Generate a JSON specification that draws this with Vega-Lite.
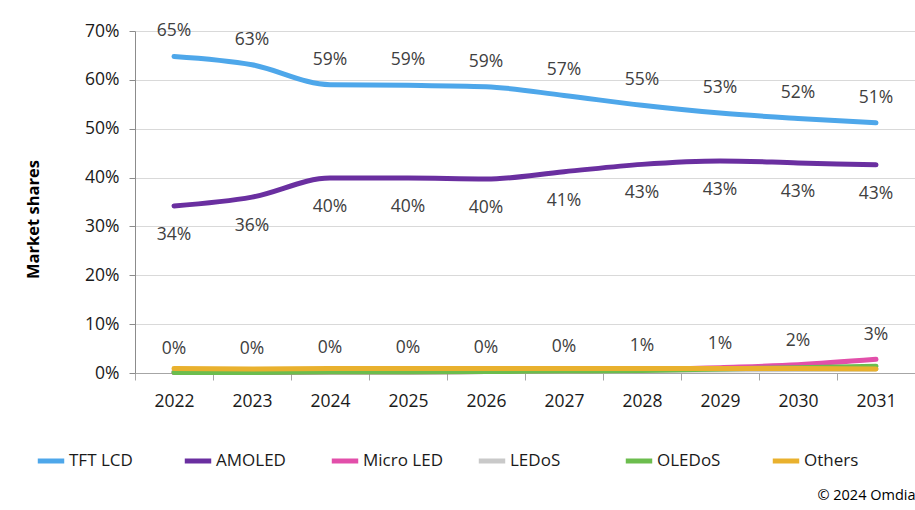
{
  "$schema": "https://vega.github.io/schema/vega-lite/v6.json",
  "width": 780,
  "height": 342,
  "autosize": {"type": "none"},
  "padding": {"left": 135, "top": 31, "right": 0, "bottom": 137},
  "background": "white",
  "config": {"font": "Open Sans", "view": {"stroke": null}},
  "title": {"text": "© 2024 Omdia", "orient": "bottom", "anchor": "end", "fontSize": 14.5, "fontWeight": "normal", "color": "black", "offset": 18},
  "data": {"values": [
    {"year": "2022", "series": "TFT LCD", "share": 0.648},
    {"year": "2023", "series": "TFT LCD", "share": 0.631},
    {"year": "2024", "series": "TFT LCD", "share": 0.590},
    {"year": "2025", "series": "TFT LCD", "share": 0.589},
    {"year": "2026", "series": "TFT LCD", "share": 0.586},
    {"year": "2027", "series": "TFT LCD", "share": 0.568},
    {"year": "2028", "series": "TFT LCD", "share": 0.548},
    {"year": "2029", "series": "TFT LCD", "share": 0.532},
    {"year": "2030", "series": "TFT LCD", "share": 0.521},
    {"year": "2031", "series": "TFT LCD", "share": 0.512},
    {"year": "2022", "series": "AMOLED", "share": 0.342},
    {"year": "2023", "series": "AMOLED", "share": 0.360},
    {"year": "2024", "series": "AMOLED", "share": 0.399},
    {"year": "2025", "series": "AMOLED", "share": 0.399},
    {"year": "2026", "series": "AMOLED", "share": 0.397},
    {"year": "2027", "series": "AMOLED", "share": 0.412},
    {"year": "2028", "series": "AMOLED", "share": 0.427},
    {"year": "2029", "series": "AMOLED", "share": 0.434},
    {"year": "2030", "series": "AMOLED", "share": 0.430},
    {"year": "2031", "series": "AMOLED", "share": 0.426},
    {"year": "2022", "series": "Micro LED", "share": 0.001},
    {"year": "2023", "series": "Micro LED", "share": 0.001},
    {"year": "2024", "series": "Micro LED", "share": 0.002},
    {"year": "2025", "series": "Micro LED", "share": 0.002},
    {"year": "2026", "series": "Micro LED", "share": 0.003},
    {"year": "2027", "series": "Micro LED", "share": 0.004},
    {"year": "2028", "series": "Micro LED", "share": 0.006},
    {"year": "2029", "series": "Micro LED", "share": 0.011},
    {"year": "2030", "series": "Micro LED", "share": 0.017},
    {"year": "2031", "series": "Micro LED", "share": 0.028},
    {"year": "2022", "series": "LEDoS", "share": 0.003},
    {"year": "2023", "series": "LEDoS", "share": 0.003},
    {"year": "2024", "series": "LEDoS", "share": 0.003},
    {"year": "2025", "series": "LEDoS", "share": 0.004},
    {"year": "2026", "series": "LEDoS", "share": 0.004},
    {"year": "2027", "series": "LEDoS", "share": 0.004},
    {"year": "2028", "series": "LEDoS", "share": 0.005},
    {"year": "2029", "series": "LEDoS", "share": 0.006},
    {"year": "2030", "series": "LEDoS", "share": 0.007},
    {"year": "2031", "series": "LEDoS", "share": 0.008},
    {"year": "2022", "series": "OLEDoS", "share": 0.001},
    {"year": "2023", "series": "OLEDoS", "share": 0.001},
    {"year": "2024", "series": "OLEDoS", "share": 0.002},
    {"year": "2025", "series": "OLEDoS", "share": 0.002},
    {"year": "2026", "series": "OLEDoS", "share": 0.003},
    {"year": "2027", "series": "OLEDoS", "share": 0.004},
    {"year": "2028", "series": "OLEDoS", "share": 0.005},
    {"year": "2029", "series": "OLEDoS", "share": 0.008},
    {"year": "2030", "series": "OLEDoS", "share": 0.011},
    {"year": "2031", "series": "OLEDoS", "share": 0.014},
    {"year": "2022", "series": "Others", "share": 0.009},
    {"year": "2023", "series": "Others", "share": 0.008},
    {"year": "2024", "series": "Others", "share": 0.009},
    {"year": "2025", "series": "Others", "share": 0.009},
    {"year": "2026", "series": "Others", "share": 0.009},
    {"year": "2027", "series": "Others", "share": 0.009},
    {"year": "2028", "series": "Others", "share": 0.009},
    {"year": "2029", "series": "Others", "share": 0.009},
    {"year": "2030", "series": "Others", "share": 0.009},
    {"year": "2031", "series": "Others", "share": 0.008}
  ]},
  "encoding": {
    "x": {
      "field": "year", "type": "ordinal", "bandPosition": 0.5,
      "scale": {"type": "band", "paddingInner": 0, "paddingOuter": 0},
      "axis": {"title": null, "labelAngle": 0, "tickBand": "extent", "tickSize": 7, "tickColor": "#A6A6A6", "domainColor": "#A6A6A6", "labelFontSize": 17.5, "labelColor": "#1a1a1a", "labelPadding": 12, "grid": false}
    },
    "y": {
      "field": "share", "type": "quantitative",
      "scale": {"domain": [0, 0.7], "nice": false},
      "axis": {"title": "Market shares", "titleFontSize": 16.5, "titleFontWeight": "bold", "titleColor": "black", "titleX": -102, "titleY": 188, "titleAngle": -90, "titleBaseline": "middle", "titleAlign": "center",
        "values": [0, 0.1, 0.2, 0.3, 0.4, 0.5, 0.6, 0.7], "format": ".0%", "labelFontSize": 17.5, "labelColor": "#1a1a1a", "labelPadding": 10, "tickSize": 6, "tickColor": "#8C8C8C", "domainColor": "#8C8C8C", "grid": true, "gridColor": "#D9D9D9", "gridWidth": 1.2}
    }
  },
  "layer": [
    {
      "mark": {"type": "line", "strokeWidth": 5, "strokeCap": "round", "interpolate": "monotone"},
      "encoding": {
        "color": {
          "field": "series", "type": "nominal",
          "sort": ["TFT LCD", "AMOLED", "Micro LED", "LEDoS", "OLEDoS", "Others"],
          "scale": {"domain": ["TFT LCD", "AMOLED", "Micro LED", "LEDoS", "OLEDoS", "Others"], "range": ["#4EA7EA", "#6A2FA0", "#E24FAA", "#C9C9C9", "#6CBD4E", "#E9B12E"]},
          "legend": {"orient": "none", "legendX": -100, "legendY": 414, "direction": "horizontal", "columns": 6, "gridAlign": "all", "title": null, "symbolType": "stroke", "symbolSize": 700, "symbolStrokeWidth": 5, "labelFontSize": 17, "labelColor": "#1a1a1a", "labelOffset": 2, "columnPadding": 25}
        },
        "order": {"field": "series", "sort": "ascending"}
      }
    },
    {
      "transform": [{"filter": "datum.series === 'TFT LCD'"}],
      "mark": {"type": "text", "dy": -25, "fontSize": 17.5, "color": "#404040"},
      "encoding": {"text": {"field": "share", "type": "quantitative", "format": ".0%"}}
    },
    {
      "transform": [{"filter": "datum.series === 'AMOLED'"}],
      "mark": {"type": "text", "dy": 29, "fontSize": 17.5, "color": "#404040"},
      "encoding": {"text": {"field": "share", "type": "quantitative", "format": ".0%"}}
    },
    {
      "transform": [{"filter": "datum.series === 'Micro LED'"}],
      "mark": {"type": "text", "dy": -24, "fontSize": 17.5, "color": "#404040"},
      "encoding": {"text": {"field": "share", "type": "quantitative", "format": ".0%"}}
    }
  ]
}
